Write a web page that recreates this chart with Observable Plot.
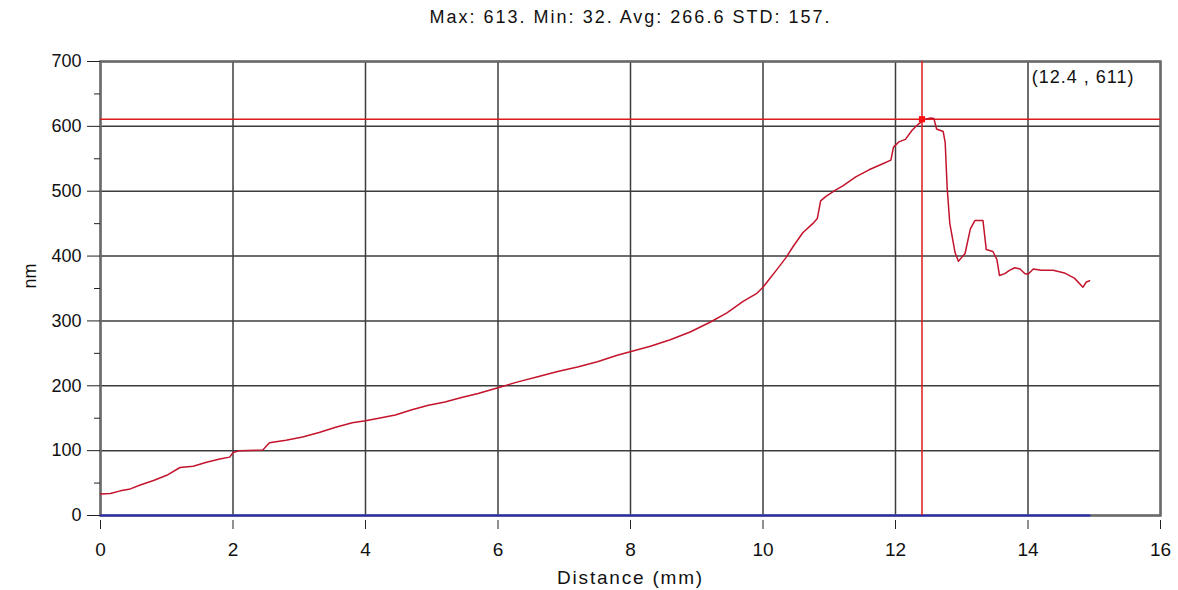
<!DOCTYPE html>
<html>
<head>
<meta charset="utf-8">
<script src="https://cdn.jsdelivr.net/npm/d3@7"></script>
<script src="https://cdn.jsdelivr.net/npm/@observablehq/plot@0.6"></script>
<style>
  body { margin: 0; background: #fff; }
  svg { display: block; }
</style>
</head>
<body>
<div id="chart"></div>
<script>
// Surface height profile along the scan line
const distance = [
  0, 0.15, 0.3, 0.45, 0.6, 0.8, 1.0, 1.2, 1.4, 1.6, 1.8, 1.95, 2.0, 2.1, 2.45,
  2.55, 2.8, 3.05, 3.3, 3.55, 3.8, 4.0, 4.2, 4.45, 4.7, 4.95, 5.2, 5.45, 5.7,
  6.0, 6.3, 6.6, 6.9, 7.2, 7.5, 7.8, 8.05, 8.3, 8.6, 8.9, 9.2, 9.45, 9.7, 9.9,
  10.0, 10.1, 10.2, 10.35, 10.45, 10.6, 10.75, 10.82, 10.87, 10.95, 11.1, 11.2,
  11.4, 11.6, 11.8, 11.93, 11.97, 12.05, 12.15, 12.25, 12.35, 12.45, 12.53,
  12.58, 12.62, 12.72, 12.75, 12.78, 12.82, 12.9, 12.95, 13.0, 13.05, 13.13,
  13.2, 13.32, 13.37, 13.47, 13.53, 13.57, 13.65, 13.72, 13.8, 13.88, 13.95,
  14.0, 14.08, 14.2, 14.38, 14.55, 14.7, 14.83, 14.88, 14.93
];
const heightNm = [
  33, 34, 38, 41, 47, 54, 62, 74, 76, 82, 87, 90, 97, 100, 101,
  112, 116, 121, 128, 136, 143, 146, 150, 155, 163, 170, 175, 182, 188,
  197, 206, 214, 222, 229, 237, 247, 254, 261, 271, 283, 298, 312, 330, 342,
  352, 365, 378, 398, 414, 436, 450, 458, 485, 492, 502, 508,
  522, 533, 542, 548, 568, 576, 580, 594, 604, 611, 613,
  612, 596, 592, 575, 505, 450, 405, 392, 398, 404, 442,
  455, 455, 410, 407, 395, 370, 373, 378, 382, 380, 373,
  372, 380, 378, 378, 374, 366, 352, 360, 362
];

// Axis ticks
const xTicks = [0, 2, 4, 6, 8, 10, 12, 14, 16];
const yTicks = [0, 100, 200, 300, 400, 500, 600, 700];
const yMinorTicks = [50, 150, 250, 350, 450, 550, 650];

// Cursor position and summary statistics
const cursorX = 12.4;
const cursorY = 611;
const statsTitle = "Max: 613. Min: 32. Avg: 266.6 STD: 157.";
const xLabel = "Distance (mm)";
const yLabel = "nm";

const profile = distance.map((x, i) => ({x, y: heightNm[i]}));
const baseline = d3.extent(distance).map((x) => ({x, y: 0}));
const cursorLabel = `(${cursorX} , ${cursorY})`;
const cursor = [{x: cursorX, y: cursorY, label: cursorLabel}];

const font = "'Liberation Sans', Arial, sans-serif";

const chart = Plot.plot({
  width: 1178,
  height: 590,
  marginLeft: 100,
  marginRight: 18,
  marginTop: 61,
  marginBottom: 75,
  style: {fontFamily: font, fontSize: "18px", background: "#fff", color: "#111"},
  x: {domain: [0, 16]},
  y: {domain: [0, 700]},
  marks: [
    Plot.gridX(xTicks, {stroke: "#3c3c3c", strokeOpacity: 1, strokeWidth: 1.5}),
    Plot.gridY(yTicks, {stroke: "#3c3c3c", strokeOpacity: 1, strokeWidth: 1.5}),
    Plot.frame({stroke: "#6a6a6a", strokeWidth: 2.5}),
    Plot.line(baseline, {x: "x", y: "y", stroke: "#2a2ab8", strokeWidth: 2}),
    Plot.ruleY(cursor, {y: "y", stroke: "#e01a1a", strokeWidth: 1.5}),
    Plot.ruleX(cursor, {x: "x", stroke: "#e01a1a", strokeWidth: 1.5}),
    Plot.line(profile, {x: "x", y: "y", stroke: "#c4142c", strokeWidth: 1.5}),
    Plot.dot(cursor, {x: "x", y: "y", symbol: "square", r: 3.5, fill: "#ff1010", stroke: null}),
    Plot.text(cursor, {text: "label", frameAnchor: "top-right", dx: -26, dy: 16, textAnchor: "end", lineAnchor: "middle", fontSize: 18, fill: "#111"}),
    Plot.axisY(yTicks, {tickSize: 13, tickPadding: 6, label: null, fontSize: 18, stroke: "#222"}),
    Plot.axisY(yMinorTicks, {tickSize: 6, tickFormat: () => "", label: null, stroke: "#222"}),
    Plot.axisX(xTicks, {tickSize: 9, dy: 5, tickPadding: 13, label: null, fontSize: 19, stroke: "#222"}),
    Plot.text([statsTitle], {frameAnchor: "top", dy: -44, lineAnchor: "middle", fontSize: 18, fill: "#111"}),
    Plot.text([xLabel], {frameAnchor: "bottom", dy: 55, lineAnchor: "top", fontSize: 19, fill: "#111"}),
    Plot.text([yLabel], {frameAnchor: "left", dx: -70, rotate: -90, lineAnchor: "middle", fontSize: 18, fill: "#111"})
  ]
});

// Widen the spacing of the header, cursor readout and axis title
const spacing = new Map([[statsTitle, "2px"], [cursorLabel, "1px"], [xLabel, "1.8px"]]);
d3.select(chart).selectAll("text").each(function () {
  const s = spacing.get(this.textContent);
  if (s) this.style.letterSpacing = s;
});

document.getElementById("chart").append(chart);
</script>
</body>
</html>
